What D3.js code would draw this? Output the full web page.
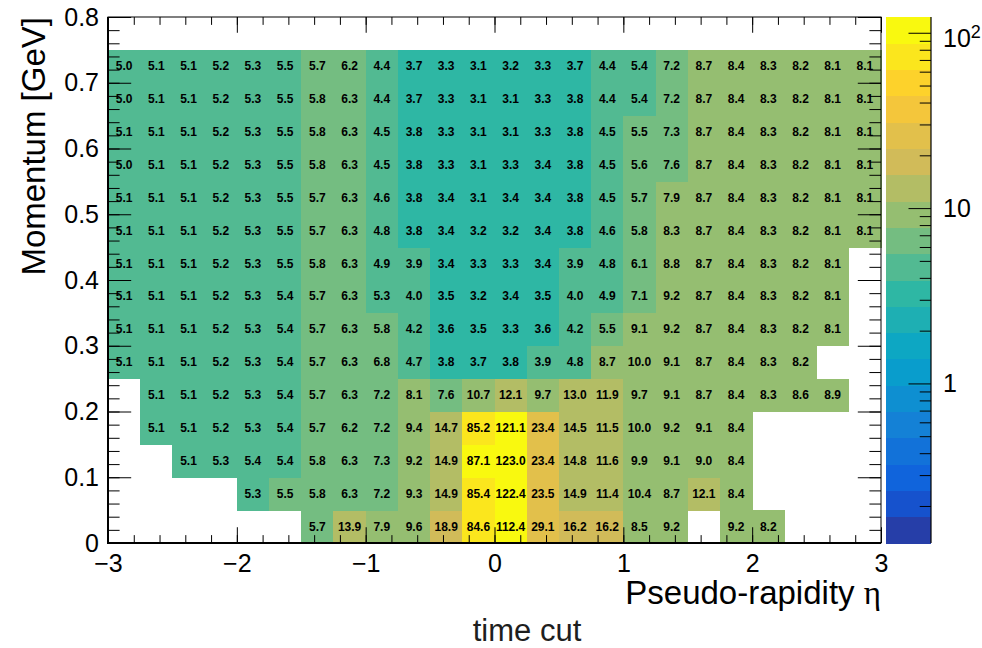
<!DOCTYPE html>
<html>
<head>
<meta charset="utf-8">
<script src="https://cdn.jsdelivr.net/npm/d3@7/dist/d3.min.js"></script>
<style>
  body { margin: 0; background: #fff; }
  text { font-family: "Liberation Sans", Arial, Helvetica, sans-serif; }
</style>
</head>
<body>
<svg id="chart" width="982" height="648"></svg>
<script>
// ---- binning ----
const etaEdges = d3.range(25).map(i => -3 + 0.25 * i);   // 24 η bins
const pEdges   = d3.range(16).map(i => 0.05 * i);        // 15 momentum bins, 0 – 0.75 GeV

// ---- bin contents, one array per momentum bin (η from -3 to 3; null = empty) ----
const p000_005 = [null,null,null,null,null,null,5.7,13.9,7.9,9.6,18.9,84.6,112.4,29.1,16.2,16.2,8.5,9.2,null,9.2,8.2,null,null,null];
const p005_010 = [null,null,null,null,5.3,5.52,5.8,6.3,7.2,9.3,14.9,85.4,122.4,23.5,14.9,11.4,10.4,8.7,12.1,8.4,null,null,null,null];
const p010_015 = [null,null,5.1,5.3,5.4,5.4,5.8,6.3,7.3,9.2,14.9,87.1,123.0,23.4,14.8,11.6,9.9,9.1,9.0,8.4,null,null,null,null];
const p015_020 = [null,5.1,5.1,5.2,5.3,5.4,5.7,6.2,7.2,9.4,14.7,85.2,121.1,23.4,14.5,11.5,10.0,9.2,9.1,8.4,null,null,null,null];
const p020_025 = [null,5.1,5.1,5.2,5.3,5.4,5.7,6.3,7.2,8.1,7.6,10.7,12.1,9.7,13.0,11.9,9.7,9.1,8.7,8.4,8.3,8.6,8.9,null];
const p025_030 = [5.1,5.1,5.1,5.2,5.3,5.4,5.7,6.3,6.8,4.7,3.8,3.7,3.8,3.9,4.8,8.7,10.0,9.1,8.7,8.4,8.3,8.2,null,null];
const p030_035 = [5.1,5.1,5.1,5.2,5.3,5.4,5.7,6.3,5.8,4.2,3.6,3.5,3.3,3.6,4.2,5.52,9.1,9.2,8.7,8.4,8.3,8.2,8.1,null];
const p035_040 = [5.1,5.1,5.1,5.2,5.3,5.4,5.7,6.3,5.3,4.0,3.5,3.2,3.4,3.5,4.0,4.9,7.1,9.2,8.7,8.4,8.3,8.2,8.1,null];
const p040_045 = [5.1,5.1,5.1,5.2,5.3,5.48,5.8,6.3,4.9,3.9,3.4,3.3,3.3,3.4,3.9,4.8,6.1,8.8,8.7,8.4,8.3,8.2,8.1,null];
const p045_050 = [5.1,5.1,5.1,5.2,5.3,5.48,5.7,6.3,4.8,3.8,3.4,3.2,3.2,3.4,3.8,4.6,5.8,8.3,8.7,8.4,8.3,8.2,8.1,8.1];
const p050_055 = [5.1,5.1,5.1,5.2,5.3,5.48,5.7,6.3,4.6,3.8,3.4,3.1,3.4,3.4,3.8,4.5,5.7,7.9,8.7,8.4,8.3,8.2,8.1,8.1];
const p055_060 = [5.0,5.1,5.1,5.2,5.3,5.48,5.8,6.3,4.5,3.8,3.3,3.1,3.3,3.4,3.8,4.5,5.6,7.6,8.7,8.4,8.3,8.2,8.1,8.1];
const p060_065 = [5.1,5.1,5.1,5.2,5.3,5.48,5.8,6.3,4.5,3.8,3.3,3.1,3.1,3.3,3.8,4.5,5.52,7.3,8.7,8.4,8.3,8.2,8.1,8.1];
const p065_070 = [5.0,5.1,5.1,5.2,5.3,5.48,5.8,6.3,4.4,3.7,3.3,3.1,3.1,3.3,3.8,4.4,5.4,7.2,8.7,8.4,8.3,8.2,8.1,8.1];
const p070_075 = [5.0,5.1,5.1,5.2,5.3,5.48,5.7,6.2,4.4,3.7,3.3,3.1,3.2,3.3,3.7,4.4,5.4,7.2,8.7,8.4,8.3,8.2,8.1,8.1];

const rows = [p000_005,p005_010,p010_015,p015_020,p020_025,p025_030,p030_035,
              p035_040,p040_045,p045_050,p050_055,p055_060,p060_065,p065_070,p070_075];

// ---- axis ticks ----
const xMajor = [-3,-2,-1,0,1,2,3];
const xMinor = d3.range(-3, 3.001, 0.2);
const yMajor = [0,0.1,0.2,0.3,0.4,0.5,0.6,0.7,0.8];
const yMinor = d3.range(0, 0.8001, 0.02);
const zMajor = [1,10,100];
const zMinor = [0.2,0.3,0.4,0.5,0.6,0.7,0.8,0.9,2,3,4,5,6,7,8,9,20,30,40,50,60,70,80,90];

// ---- texts ----
const xTitle = "Pseudo-rapidity ";
const xTitleSym = "η";
const yTitle = "Momentum [GeV]";
const caption = "time cut";

// ---- bird palette (gradient stops) ----
const palStops = [0.0,0.125,0.25,0.375,0.5,0.625,0.75,0.875,1.0];
const palR = [0.2082,0.0592,0.0780,0.0232,0.1802,0.5301,0.8186,0.9956,0.9764];
const palG = [0.1664,0.3599,0.5041,0.6419,0.7178,0.7492,0.7328,0.7862,0.9832];
const palB = [0.5293,0.8684,0.8385,0.7914,0.6425,0.4662,0.3499,0.1968,0.0539];
const nColors = 255, nLevels = 20;

const table = [];
for (let g = 1; g < palStops.length; g++) {
  const n = Math.floor(nColors * palStops[g]) - Math.floor(nColors * palStops[g-1]);
  for (let c = 0; c < n; c++) {
    const t = c / n;
    table.push(d3.rgb(
      255 * (palR[g-1] + t * (palR[g] - palR[g-1])),
      255 * (palG[g-1] + t * (palG[g] - palG[g-1])),
      255 * (palB[g-1] + t * (palB[g] - palB[g-1]))
    ).formatHex());
  }
}
const levelColor = i => table[Math.min(nColors - 1, Math.floor((i + 0.99) * nColors / nLevels))];

// ---- layout ----
const F = { l: 108, r: 881, t: 17, b: 543 };
const P = { l: 886, r: 931 };
const svg = d3.select("#chart");

const x = d3.scaleLinear().domain([-3, 3]).range([F.l, F.r]);
const y = d3.scaleLinear().domain([0, 0.8]).range([F.b, F.t]);

const allVals = rows.flat().filter(v => v != null);
const zMax = d3.max(allVals);
const zMin = zMax * 0.001;
const z = d3.scaleLog().domain([zMin, zMax]).range([F.b, F.t]);
// contour level index of a value
const lz = d3.scaleLinear().domain([Math.log10(zMin), Math.log10(zMax)]).range([0, nLevels]);
const levelOf = v => Math.max(0, Math.min(nLevels - 1, Math.floor(lz(Math.log10(v)))));

// frame background
svg.append("rect").attr("x", F.l).attr("y", F.t).attr("width", F.r - F.l).attr("height", F.b - F.t)
  .attr("fill", "#fff");

// ---- cells ----
const cells = [];
rows.forEach((row, j) => row.forEach((v, i) => {
  if (v != null) cells.push({ i, j, v });
}));

svg.append("g").attr("shape-rendering", "crispEdges")
  .selectAll("rect").data(cells).join("rect")
  .attr("x", d => x(etaEdges[d.i]))
  .attr("y", d => y(pEdges[d.j + 1]))
  .attr("width", d => x(etaEdges[d.i + 1]) - x(etaEdges[d.i]) + 0.5)
  .attr("height", d => y(pEdges[d.j]) - y(pEdges[d.j + 1]) + 0.5)
  .attr("fill", d => levelColor(levelOf(d.v)));

svg.append("g").selectAll("text").data(cells).join("text")
  .attr("x", d => x((etaEdges[d.i] + etaEdges[d.i + 1]) / 2))
  .attr("y", d => y((pEdges[d.j] + pEdges[d.j + 1]) / 2))
  .attr("text-anchor", "middle").attr("dominant-baseline", "central")
  .attr("font-size", 12).attr("font-weight", "bold").attr("fill", "#000")
  .text(d => d.v.toFixed(1));

// ---- axes ----
const minus = d => (d < 0 ? "\u2212" + (-d) : String(d));
const styleAxis = g => {
  g.select(".domain").remove();
  g.selectAll("line").attr("stroke", "#000").attr("stroke-width", 1);
  g.selectAll("text").attr("font-size", 25).attr("fill", "#000")
    .attr("font-family", "Liberation Sans, Arial, sans-serif");
};
const xTickLen = 0.03 * (F.b - F.t);
const yTickLen = 0.03 * (F.r - F.l);

// bottom
svg.append("g").attr("transform", `translate(0,${F.b})`)
  .call(d3.axisBottom(x).tickValues(xMajor).tickSize(-xTickLen).tickPadding(11).tickFormat(minus))
  .call(styleAxis);
svg.append("g").attr("transform", `translate(0,${F.b})`)
  .call(d3.axisBottom(x).tickValues(xMinor).tickSize(-xTickLen / 2).tickFormat(""))
  .call(styleAxis);
// top
svg.append("g").attr("transform", `translate(0,${F.t})`)
  .call(d3.axisTop(x).tickValues(xMajor).tickSize(-xTickLen).tickFormat(""))
  .call(styleAxis);
svg.append("g").attr("transform", `translate(0,${F.t})`)
  .call(d3.axisTop(x).tickValues(xMinor).tickSize(-xTickLen / 2).tickFormat(""))
  .call(styleAxis);
// left
svg.append("g").attr("transform", `translate(${F.l},0)`)
  .call(d3.axisLeft(y).tickValues(yMajor).tickSize(-yTickLen).tickPadding(9)
    .tickFormat(d => (d === 0 ? "0" : d.toFixed(1))))
  .call(styleAxis);
svg.append("g").attr("transform", `translate(${F.l},0)`)
  .call(d3.axisLeft(y).tickValues(yMinor).tickSize(-yTickLen / 2).tickFormat(""))
  .call(styleAxis);
// right
svg.append("g").attr("transform", `translate(${F.r},0)`)
  .call(d3.axisRight(y).tickValues(yMajor).tickSize(-yTickLen).tickFormat(""))
  .call(styleAxis);
svg.append("g").attr("transform", `translate(${F.r},0)`)
  .call(d3.axisRight(y).tickValues(yMinor).tickSize(-yTickLen / 2).tickFormat(""))
  .call(styleAxis);

// frame
svg.append("rect").attr("x", F.l).attr("y", F.t).attr("width", F.r - F.l).attr("height", F.b - F.t)
  .attr("fill", "none").attr("stroke", "#000").attr("stroke-width", 1);
svg.append("path").attr("d", `M${F.l},${F.t}V${F.b}H${F.r}`)
  .attr("fill", "none").attr("stroke", "#000").attr("stroke-width", 2);

// ---- palette (colour bar) ----
const levelEdges = d3.range(nLevels + 1).map(k => Math.pow(10, lz.invert(k)));
svg.append("g").attr("shape-rendering", "crispEdges")
  .selectAll("rect").data(d3.range(nLevels)).join("rect")
  .attr("x", P.l).attr("width", P.r - P.l)
  .attr("y", k => z(levelEdges[k + 1]))
  .attr("height", k => z(levelEdges[k]) - z(levelEdges[k + 1]) + 0.5)
  .attr("fill", k => levelColor(k));

const zAxis = svg.append("g").attr("transform", `translate(${P.r},0)`)
  .call(d3.axisRight(z).tickValues(zMajor).tickSize(-(P.r - P.l) / 2).tickPadding(12)
    .tickFormat(d => (d === 100 ? "10" : String(d))))
  .call(styleAxis);
zAxis.selectAll(".tick").filter(d => d === 100).select("text")
  .attr("dy", "0.55em")
  .append("tspan").attr("dy", "-0.5em").attr("font-size", 18).text("2");
svg.append("g").attr("transform", `translate(${P.r},0)`)
  .call(d3.axisRight(z).tickValues(zMinor).tickSize(-(P.r - P.l) / 4).tickFormat(""))
  .call(styleAxis);
svg.append("line").attr("x1", P.r).attr("x2", P.r).attr("y1", F.t).attr("y2", F.b)
  .attr("stroke", "#000").attr("stroke-width", 1.2);

// ---- titles ----
const xt = svg.append("text").attr("x", F.r).attr("y", 604).attr("text-anchor", "end")
  .attr("font-size", 33).attr("fill", "#000").text(xTitle);
xt.append("tspan").attr("font-family", "Liberation Serif, DejaVu Serif, serif").text(xTitleSym);

svg.append("text").attr("transform", `translate(45,${F.t}) rotate(-90)`)
  .attr("text-anchor", "end").attr("font-size", 33).attr("fill", "#000").text(yTitle);

svg.append("text").attr("x", 527).attr("y", 641).attr("text-anchor", "middle")
  .attr("font-size", 31).attr("fill", "#1e1e1e").text(caption);
</script>
</body>
</html>
